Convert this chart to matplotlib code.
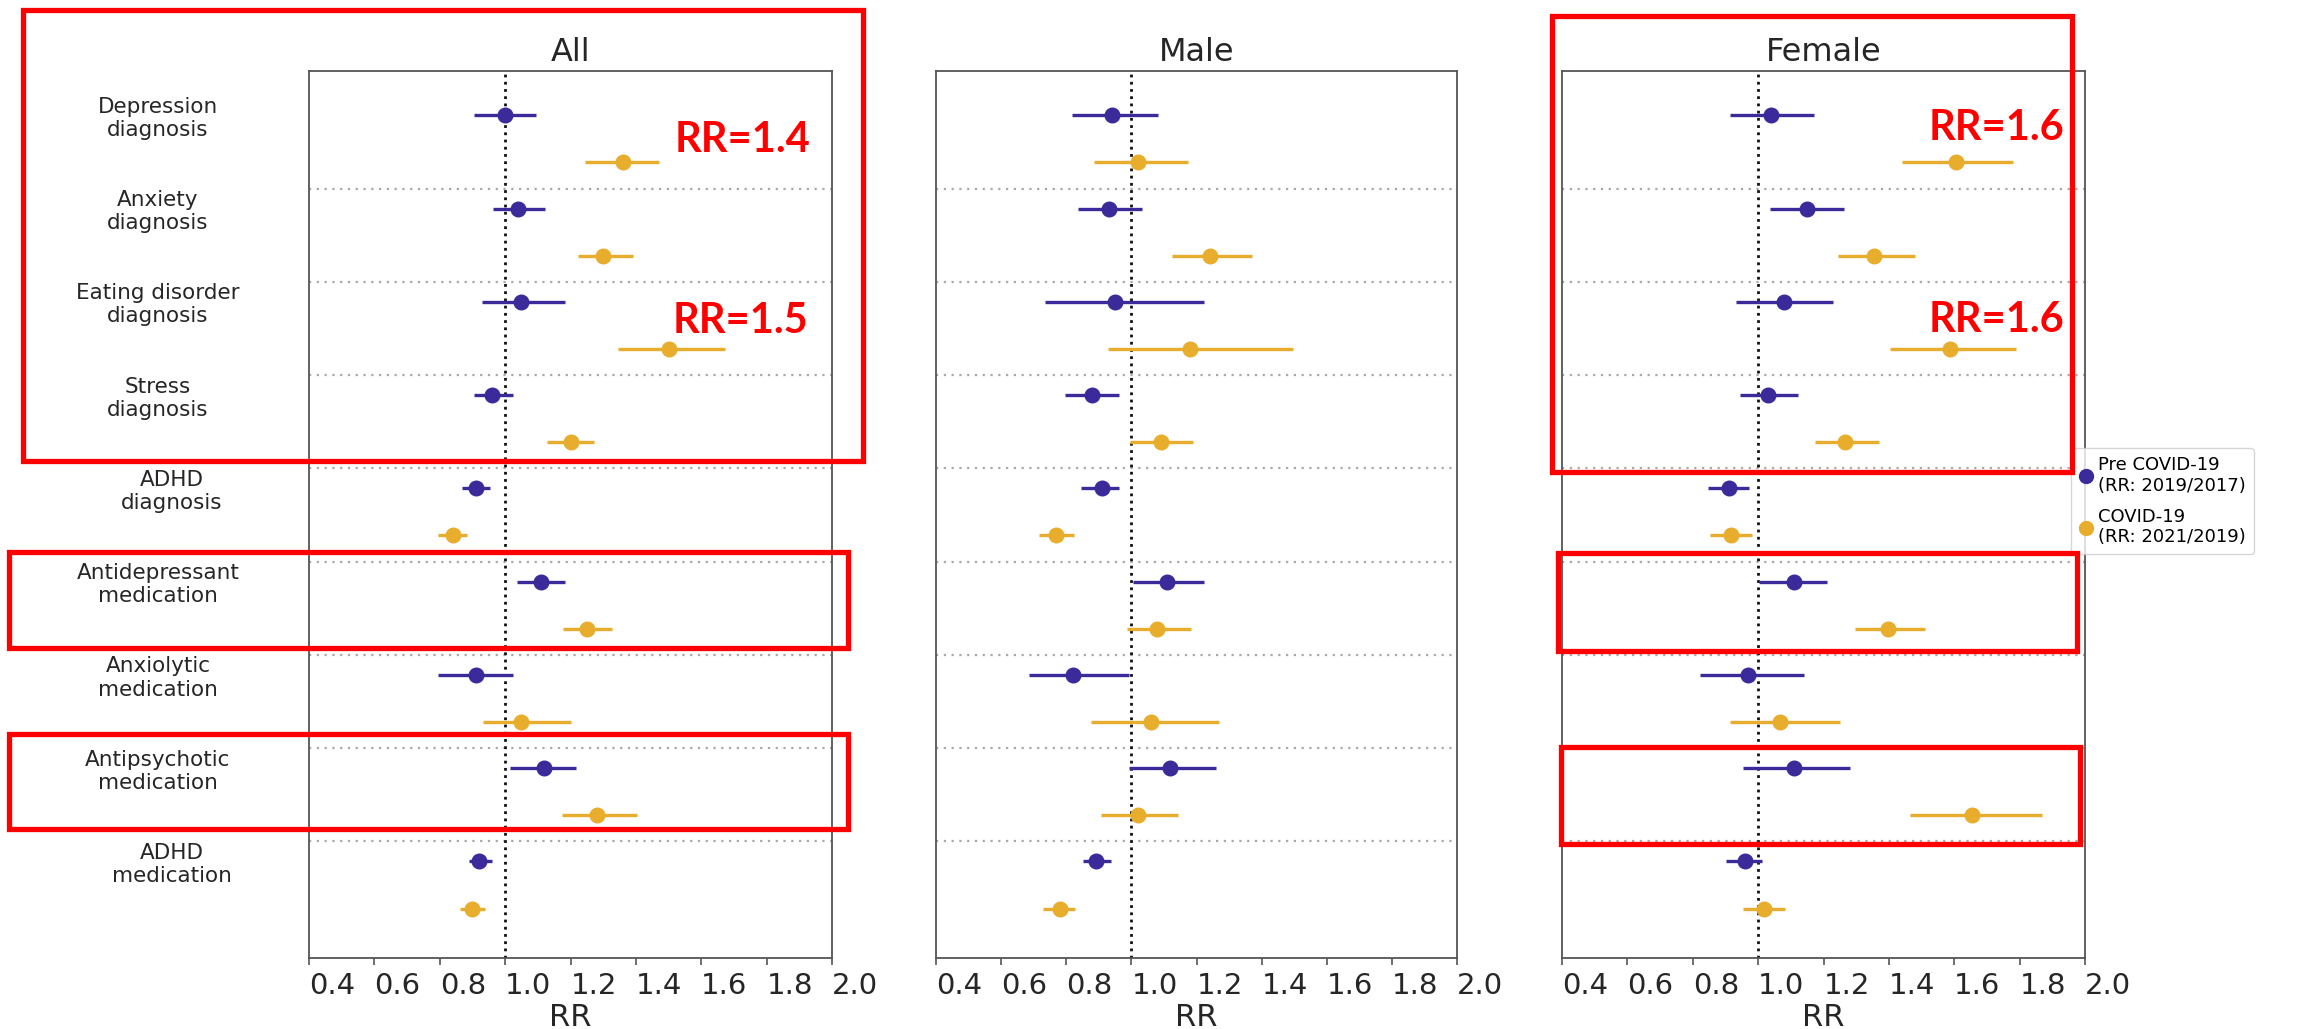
import matplotlib
matplotlib.use('Agg')
import matplotlib.pyplot as plt
import matplotlib.transforms as mtransforms
from matplotlib.patches import Rectangle
from matplotlib.lines import Line2D
import numpy as np

W, H = 2317, 1029

categories = ["Depression\ndiagnosis", "Anxiety\ndiagnosis", "Eating disorder\ndiagnosis",
              "Stress\ndiagnosis", "ADHD\ndiagnosis", "Antidepressant\nmedication",
              "Anxiolytic\nmedication", "Antipsychotic\nmedication", "ADHD\nmedication"]
panels = ["All", "Male", "Female"]
xticks = [0.4, 0.6, 0.8, 1.0, 1.2, 1.4, 1.6, 1.8, 2.0]
series_labels = ["Pre COVID-19\n(RR: 2019/2017)", "COVID-19\n(RR: 2021/2019)"]

# All
all_pre_rr = [1.00, 1.04, 1.05, 0.96, 0.91, 1.11, 0.91, 1.12, 0.92]
all_pre_lo = [0.905, 0.963, 0.929, 0.905, 0.868, 1.036, 0.795, 1.014, 0.888]
all_pre_hi = [1.094, 1.122, 1.183, 1.024, 0.954, 1.183, 1.024, 1.217, 0.960]
all_cov_rr = [1.36, 1.30, 1.50, 1.20, 0.84, 1.25, 1.05, 1.28, 0.90]
all_cov_lo = [1.244, 1.223, 1.345, 1.128, 0.795, 1.177, 0.933, 1.173, 0.862]
all_cov_hi = [1.470, 1.390, 1.672, 1.272, 0.883, 1.327, 1.200, 1.403, 0.938]

# Male
male_pre_rr = [0.94, 0.93, 0.95, 0.88, 0.91, 1.11, 0.82, 1.12, 0.89]
male_pre_lo = [0.817, 0.835, 0.734, 0.796, 0.845, 1.004, 0.685, 0.992, 0.851]
male_pre_hi = [1.081, 1.032, 1.222, 0.962, 0.962, 1.222, 0.992, 1.260, 0.938]
male_cov_rr = [1.02, 1.24, 1.18, 1.09, 0.77, 1.08, 1.06, 1.02, 0.78]
male_cov_lo = [0.885, 1.124, 0.927, 0.995, 0.716, 0.986, 0.875, 0.906, 0.730]
male_cov_hi = [1.173, 1.370, 1.495, 1.190, 0.823, 1.182, 1.270, 1.142, 0.826]

# Female
fem_pre_rr = [1.04, 1.15, 1.08, 1.03, 0.91, 1.11, 0.97, 1.11, 0.96]
fem_pre_lo = [0.914, 1.036, 0.932, 0.944, 0.846, 1.002, 0.822, 0.953, 0.902]
fem_pre_hi = [1.171, 1.262, 1.229, 1.122, 0.972, 1.210, 1.140, 1.280, 1.012]
fem_cov_rr = [1.605, 1.354, 1.587, 1.265, 0.918, 1.397, 1.067, 1.654, 1.018]
fem_cov_lo = [1.440, 1.244, 1.403, 1.174, 0.853, 1.296, 0.914, 1.464, 0.953]
fem_cov_hi = [1.779, 1.480, 1.788, 1.369, 0.981, 1.510, 1.250, 1.868, 1.082]

panel_data = [
    (all_pre_rr, all_pre_lo, all_pre_hi, all_cov_rr, all_cov_lo, all_cov_hi),
    (male_pre_rr, male_pre_lo, male_pre_hi, male_cov_rr, male_cov_lo, male_cov_hi),
    (fem_pre_rr, fem_pre_lo, fem_pre_hi, fem_cov_rr, fem_cov_lo, fem_cov_hi),
]

BLUE = '#3a2a9a'
YELLOW = '#e8ad2c'
TXT = '#262626'

fig = plt.figure(figsize=(W / 100, H / 100), dpi=100)
fig.patch.set_facecolor('white')

axes_px = [(309, 523), (936, 521), (1562, 523)]
top_px, bot_px = 71, 958

n = len(categories)
ypos = np.arange(n)
off_pre, off_cov = -0.285, 0.22

for k, (title, data, (x0, w)) in enumerate(zip(panels, panel_data, axes_px)):
    ax = fig.add_axes([x0 / W, 1 - bot_px / H, w / W, (bot_px - top_px) / H])
    pre_rr, pre_lo, pre_hi, cov_rr, cov_lo, cov_hi = [np.array(a) for a in data]
    ax.errorbar(pre_rr, ypos + off_pre, xerr=[pre_rr - pre_lo, pre_hi - pre_rr],
                fmt='o', color=BLUE, ms=10.5, elinewidth=2.4, capsize=0, zorder=3)
    ax.errorbar(cov_rr, ypos + off_cov, xerr=[cov_rr - cov_lo, cov_hi - cov_rr],
                fmt='o', color=YELLOW, ms=10.5, elinewidth=2.4, capsize=0, zorder=3)
    for b in range(1, n):
        ax.axhline(b - 0.5, color='#a8a8a8', ls=(0, (1, 2.5)), lw=1.6, zorder=1)
    ax.axvline(1.0, color='#111111', ls=(0, (1, 1.6)), lw=2.0, zorder=2)
    ax.set_xlim(0.4, 2.0)
    ax.set_ylim(n - 0.5 + 0.25, -0.5 - 0.26)
    ax.set_xticks(xticks)
    ax.set_xticklabels([f"{t:.1f}" for t in xticks], fontsize=21, color=TXT)
    for lab in ax.get_xticklabels():
        lab.set_horizontalalignment('left')
    ax.tick_params(axis='x', length=5, width=1.2, color='#555555', pad=5)
    ax.set_xlabel("RR", fontsize=22, color=TXT, labelpad=2)
    ax.set_title(title, fontsize=23, color=TXT, pad=7)
    for s in ax.spines.values():
        s.set_color('#555555')
        s.set_linewidth(1.3)
    ax.set_yticks([])
    if k == 0:
        for i, cat in enumerate(categories):
            dx_px = -151 + (14 if cat.startswith("ADHD") else 0)
            tr = ax.get_yaxis_transform() + mtransforms.ScaledTranslation(
                dx_px / 100, -3 / 100, fig.dpi_scale_trans)
            ax.text(0, ypos[i] + off_pre, cat, transform=tr, fontsize=15.5, color=TXT,
                    ha='center', va='center', multialignment='center')

handles = [Line2D([], [], marker='o', ls='none', color=BLUE, ms=10),
           Line2D([], [], marker='o', ls='none', color=YELLOW, ms=10)]
leg = fig.legend(handles, series_labels, loc='upper left',
                 bbox_to_anchor=(2071 / W, 1 - 448 / H), fontsize=13,
                 frameon=True, handletextpad=0.25, borderpad=0.45, borderaxespad=0,
                 labelspacing=0.7, handlelength=0.8)
leg.get_frame().set_edgecolor('#cccccc')
leg.get_frame().set_linewidth(1.0)

# red annotation overlays (figure pixel coordinates)
boxes = [(23, 10, 863, 461), (9, 552, 848, 648), (9, 734, 848, 829),
         (1552, 16, 2072, 472), (1558, 553, 2077, 651), (1561, 747, 2080, 844)]
for (bx0, by0, bx1, by1) in boxes:
    fig.add_artist(Rectangle((bx0 / W, 1 - by1 / H), (bx1 - bx0) / W, (by1 - by0) / H,
                             transform=fig.transFigure, fill=False,
                             edgecolor='#ff0000', linewidth=3.8, zorder=10))

notes = [("RR=1.4", 743, 140), ("RR=1.5", 740, 321),
         ("RR=1.6", 1996, 128), ("RR=1.6", 1996, 320)]
for txt, tx, ty in notes:
    fig.text(tx / W, 1 - ty / H, txt, color='#ff0000', fontsize=30, fontweight='bold',
             family=['Lato', 'DejaVu Sans'], ha='center', va='center', zorder=11)

fig.savefig('out.png', dpi=100, facecolor='white')
